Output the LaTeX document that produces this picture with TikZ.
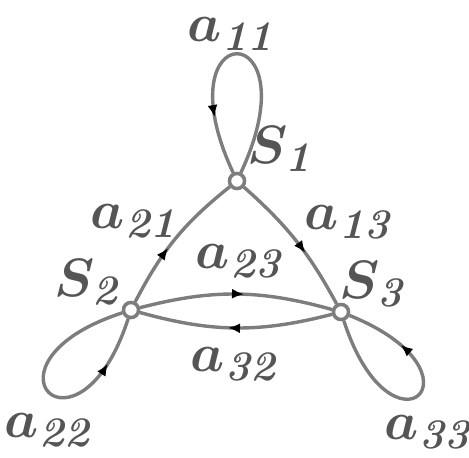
\RequirePackage{fix-cm}
\documentclass[tikz,border=0pt]{standalone}
\usetikzlibrary{arrows.meta,decorations.markings}
\renewcommand\defaultscriptratio{.78}
\definecolor{lg}{RGB}{125,125,125}
\definecolor{tg}{RGB}{85,85,85}
\tikzset{
  st/.style={circle,draw=lg,fill=white,line width=3.4pt,minimum size=15pt,inner sep=0pt},
  edge/.style={draw=lg,line width=3.4pt},
  midarr/.style={postaction={decorate},decoration={markings,
      mark=at position #1 with {\arrow[black]{Latex[length=12pt,width=10pt]}}}},
  lbl/.style={text=tg,font=\fontsize{54}{54}\selectfont\boldmath,inner sep=0pt}
}
\begin{document}
\begin{tikzpicture}[x=1pt,y=-1pt]
\useasboundingbox (0,0) rectangle (469,458);
\node[st] (S1) at (237,181) {};
\node[st] (S2) at (131,310) {};
\node[st] (S3) at (341,312) {};
% edges
\draw[edge,midarr=0.42] (S2) to[bend left=12] (S1);
\draw[edge,midarr=0.6] (S1) to[bend left=10] (S3);
\draw[edge,midarr=0.54] (S2) to[bend left=15] (S3);
\draw[edge,midarr=0.54] (S3) to[bend left=15] (S2);
% loops
\draw[edge,midarr=0.78] (S1.65) .. controls +(-65:175) and +(-115:175) .. (S1.115);
\draw[edge,midarr=0.8] (S2.198) .. controls +(-198:162) and +(-252:162) .. (S2.252);
\draw[edge,midarr=0.75] (S3.288) .. controls +(-288:155) and +(-338:155) .. (S3.338);
% redraw circles on top
\node[st] at (S1) {};
\node[st] at (S2) {};
\node[st] at (S3) {};
% labels
\node[lbl] (l11) at (233,34) {$a_{\mathit{11}}$};
\node[lbl] (lS1) at (282,149) {$S_{\mathit{1}}$};
\node[lbl] (l21) at (136,221) {$a_{\mathit{21}}$};
\node[lbl] (l23) at (241,261) {$a_{\mathit{23}}$};
\node[lbl] (l13) at (350,222) {$a_{\mathit{13}}$};
\node[lbl] (lS2) at (89,282) {$S_{\mathit{2}}$};
\node[lbl] (lS3) at (374,284) {$S_{\mathit{3}}$};
\node[lbl] (l32) at (236,364) {$a_{\mathit{32}}$};
\node[lbl] (l22) at (50,430) {$a_{\mathit{22}}$};
\node[lbl] (l33) at (430,432) {$a_{\mathit{33}}$};
\end{tikzpicture}
\end{document}
